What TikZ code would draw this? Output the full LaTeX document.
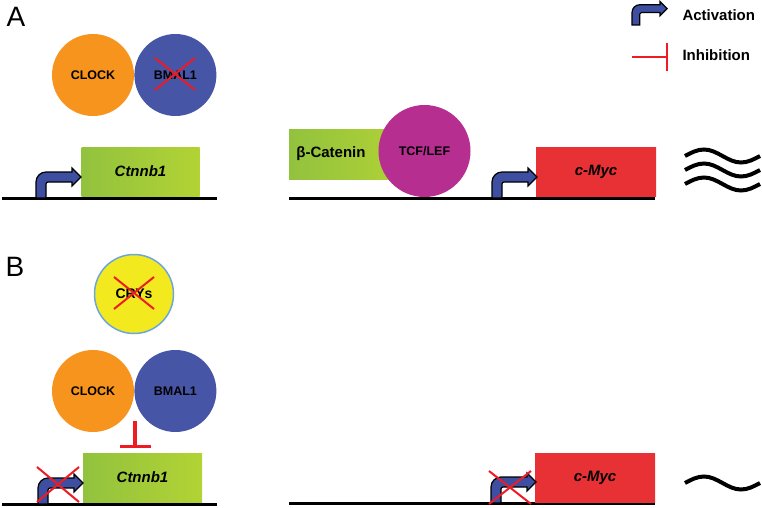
\documentclass[tikz,border=0pt]{standalone}
\usepackage{fontspec}
\setmainfont{Liberation Sans}
\usepackage{tikz}
\usetikzlibrary{positioning}
\usetikzlibrary{shapes,arrows.meta}
\definecolor{clockorange}{RGB}{247,148,29}
\definecolor{bmalblue}{RGB}{70,85,165}
\definecolor{tcfpink}{RGB}{183,46,145}
\definecolor{mycred}{RGB}{232,49,52}
\definecolor{cryyellow}{RGB}{242,234,30}
\definecolor{cryline}{RGB}{108,166,218}
\definecolor{geneL}{RGB}{146,194,62}
\definecolor{geneR}{RGB}{178,211,52}
\definecolor{actblue}{RGB}{62,78,160}
\definecolor{inhred}{RGB}{237,28,36}
\tikzset{
gene/.style = {rectangle, left color=geneL, right color=geneR, inner sep=0pt, minimum width=118pt, minimum height=49pt, font=\fontsize{15}{18}\selectfont\bfseries\itshape},
prot/.style = {circle, inner sep=0pt, minimum size=82pt, font=\fontsize{12.5}{15}\selectfont\bfseries},
dna/.style = {line width=3pt},
knock/.style = {cross out, draw=inhred, line width=2pt, inner sep=0pt},
inhib/.style = {draw=inhred, line width=2pt, -{Bar[width=30pt]}},
wave/.style = {line width=4pt},
panel/.style = {font=\fontsize{28}{30}\selectfont},
legend/.style = {anchor=west, font=\fontsize{15}{18}\selectfont\bfseries},
actarrow/.pic = {
  \filldraw[fill=actblue, draw=black, line width=1.2pt]
    (0,0) -- (0,-16) arc[start angle=180, end angle=270, radius=10]
    -- (36,-26) -- (36,-30) -- (45,-21) -- (36,-12) -- (36,-16) -- (12,-16)
    arc[start angle=270, end angle=180, radius=2] -- (10,0) -- cycle;
}
}
\begin{document}
\begin{tikzpicture}[x=1pt, y=-1pt]
    \useasboundingbox (0,0) rectangle (762,508);
    % legend
    \pic[scale=0.78] at (632,25) {actarrow};
    \node [legend] (actlabel) at (679,15) {Activation};
    \coordinate (inhstart) at (632,57);
    \coordinate (inhend) at (668,57);
    \draw [inhib, -{Bar[width=28pt]}] (inhstart) -- (inhend);
    \node [legend] (inhlabel) at (679,55) {Inhibition};

    % panel A
    \node [panel] (labelA) at (16,17) {A};
    \node [prot, fill=clockorange] (clockA) at (93,75) {CLOCK};
    \node [prot, fill=bmalblue, right=0pt of clockA] (bmalA) {BMAL1};
    \node [knock, minimum width=38pt, minimum height=30pt] (koBmal) at (175,74) {};

    \coordinate (dnaA1) at (2,198);
    \coordinate (dnaA2) at (217,198);
    \coordinate (dnaA3) at (289,198);
    \coordinate (dnaA4) at (655,198);
    \draw [dna] (dnaA1) -- (dnaA2);
    \draw [dna] (dnaA3) -- (dnaA4);

    \node [gene] (ctnnbA) at (140.5,171.5) {Ctnnb1};
    \pic at (36,198) {actarrow};
    \node [gene, minimum width=122pt, minimum height=50pt] (catenin) at (350,154) {};
    \node [font=\fontsize{15}{18}\selectfont\bfseries] (catlabel) at (331,154) {β-Catenin};
    \node [prot, fill=tcfpink, minimum size=92pt] (tcf) at (424.5,151) {TCF/LEF};
    \node [gene, left color=mycred, right color=mycred, minimum width=120pt] (mycA) at (596,171.5) {c-Myc};
    \pic at (492,198) {actarrow};

    \draw [wave] (685,156) sin (704,149.5) cos (722.5,156) sin (741,162.5) cos (760,156);
    \draw [wave] (685,170) sin (704,163.5) cos (722.5,170) sin (741,176.5) cos (760,170);
    \draw [wave] (685,184) sin (704,177.5) cos (722.5,184) sin (741,190.5) cos (760,184);

    % panel B
    \node [panel] (labelB) at (15,267) {B};
    \node [prot, fill=cryyellow, draw=cryline, line width=1.5pt, minimum size=79pt, font=\fontsize{14}{16}\selectfont\bfseries] (crys) at (134,294) {CRYs};
    \node [knock, minimum width=38pt, minimum height=30pt] (koCrys) at (134,293) {};
    \node [prot, fill=clockorange] (clockB) at (93,391) {CLOCK};
    \node [prot, fill=bmalblue, right=0pt of clockB] (bmalB) {BMAL1};

    \coordinate (dnaB1) at (2,504);
    \coordinate (dnaB2) at (217,504);
    \coordinate (dnaB3) at (289,503);
    \coordinate (dnaB4) at (655,503);
    \draw [dna] (dnaB1) -- (dnaB2);
    \draw [dna] (dnaB3) -- (dnaB4);

    \node [gene, minimum width=119pt] (ctnnbB) at (142.5,477.5) {Ctnnb1};
    \coordinate (inhB) at (135,421);
    \coordinate (inhBend) at (135,448);
    \draw [inhib, line width=3.5pt, -{Bar[width=31pt]}] (inhB) -- (inhBend);
    \pic at (38,504) {actarrow};
    \node [knock, minimum width=40pt, minimum height=33pt] (koCtnnb) at (58,484.5) {};

    \node [gene, left color=mycred, right color=mycred, minimum width=120pt] (mycB) at (595,477.5) {c-Myc};
    \pic at (491,503) {actarrow};
    \node [knock, minimum width=40pt, minimum height=31pt] (koMyc) at (510,487.5) {};

    \draw [wave] (685,483) sin (704,476.5) cos (722.5,483) sin (741,489.5) cos (760,483);
\end{tikzpicture}
\end{document}
